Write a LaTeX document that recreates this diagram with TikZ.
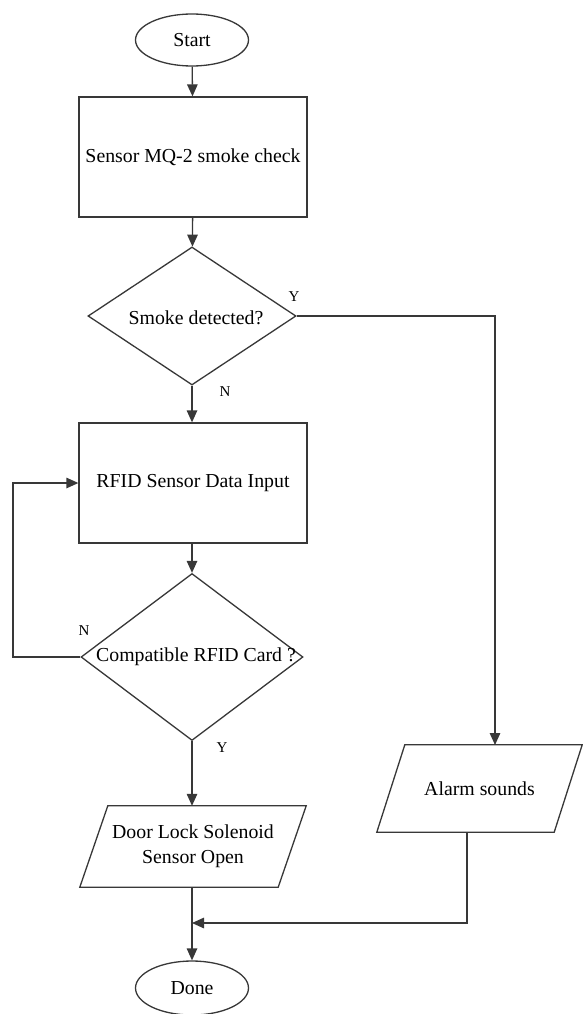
\documentclass[tikz,border=0pt]{standalone}
\usepackage{fontspec}
\setmainfont{Liberation Serif}
\usetikzlibrary{shapes.geometric,arrows.meta}
\begin{document}
\begin{tikzpicture}[x=1pt,y=-1pt,
  lin/.style={draw=black!78, line width=1.3pt},
  arr/.style={lin, -{Triangle[length=12pt,width=10.5pt]}},
  txt/.style={font=\fontsize{19.8}{25}\selectfont, align=center, inner sep=0pt},
  lbl/.style={font=\fontsize{15}{17}\selectfont, inner sep=0pt},
  term/.style={ellipse, lin, txt, minimum width=113pt, minimum height=52pt},
  procbox/.style={rectangle, lin, txt, minimum width=228pt, minimum height=120pt},
  decide/.style={diamond, lin, inner sep=0pt},
  iobox/.style={rectangle, txt, minimum width=#1, minimum height=84pt}
]
\useasboundingbox (0,0) rectangle (583,1014);
\fill[white] (0,0) rectangle (583,1014);

\node[term] (start) at (192,40) {Start};
\node[procbox] (box1) at (193,157) {Sensor MQ-2 smoke check};
\node[decide, minimum width=208pt, minimum height=138pt] (d1) at (192,316) {};
\node[txt] (d1t) at (196,318) {Smoke detected?};
\node[procbox] (box2) at (193,483) {RFID Sensor Data Input};
\node[decide, minimum width=222pt, minimum height=167pt] (d2) at (192,657) {};
\node[txt] (d2t) at (196,657) {Compatible RFID Card ?};

\node[iobox=226pt, minimum height=81pt] (door) at (193,846.5) {Door Lock Solenoid\\Sensor Open};
\draw[lin] ([xshift=28pt]door.north west) -- (door.north east)
  -- ([xshift=-28pt]door.south east) -- (door.south west) -- cycle;

\node[iobox=205pt, minimum height=87pt] (alarm) at (479.5,788.5) {Alarm sounds};
\draw[lin] ([xshift=28pt]alarm.north west) -- (alarm.north east)
  -- ([xshift=-28pt]alarm.south east) -- (alarm.south west) -- cycle;

\node[term, minimum height=54pt] (done) at (192,988) {Done};

\coordinate (alarmin) at (495,745);
\coordinate (alarmout) at (467,832);
\coordinate (merge) at (192,923);
\coordinate (loopx) at (13,657);

\draw[arr] (start) -- (box1);
\draw[arr] (box1) -- (d1);
\draw[arr] (d1.south) -- (box2.north -| d1.south);
\draw[arr] (box2.south -| d2.north) -- (d2.north);
\draw[arr] (d2.south) -- (door.north -| d2.south);
\draw[arr] (door.south -| done.north) -- (done.north);
\draw[arr] (d1.east) -| (alarmin);
\draw[arr] (d2.west) -- (loopx) |- (box2.west);
\draw[arr] (alarmout) |- (merge);

\node[lbl] (ly1) at (294,297) {Y};
\node[lbl] (ln1) at (225,392) {N};
\node[lbl] (ln2) at (84,631) {N};
\node[lbl] (ly2) at (222,748) {Y};
\end{tikzpicture}
\end{document}
